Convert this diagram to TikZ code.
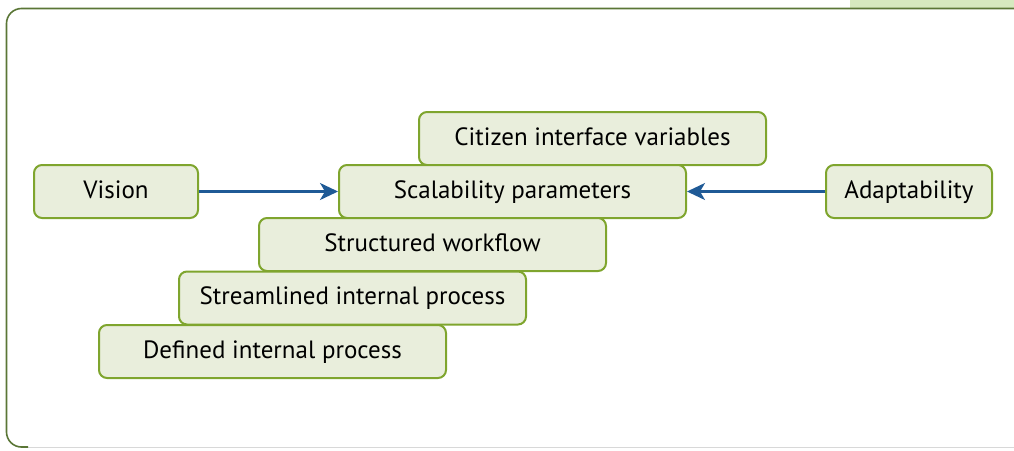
\documentclass[tikz,border=0pt]{standalone}
\usepackage{fontspec}
\setmainfont{PT Sans}
\usetikzlibrary{arrows.meta}
\definecolor{nodefill}{HTML}{E9EEDC}
\definecolor{nodeline}{HTML}{7FA52E}
\definecolor{arrowblue}{HTML}{1F5A96}
\definecolor{frameline}{HTML}{5A7636}
\definecolor{tabfill}{HTML}{D6E9BF}
\definecolor{bottomline}{HTML}{D8D8D8}
\tikzset{
  box/.style={draw=nodeline, fill=nodefill, line width=2pt, rounded corners=8pt,
    minimum height=53pt, inner sep=0pt, text height=18pt, text depth=5pt,
    font=\fontsize{25}{28}\selectfont, text=black},
  wide/.style={box, minimum width=347pt},
  narrow/.style={box, minimum width=164pt},
  link/.style={draw=arrowblue, line width=2.2pt, -{Stealth[length=18pt,width=17pt,inset=5pt]}}
}
\begin{document}
\begin{tikzpicture}[x=1pt,y=-1pt]
\useasboundingbox (0,0) rectangle (1014,450);
\fill[tabfill] (850,0) rectangle (1014,8);
\draw[bottomline, line width=1pt] (20,447) -- (1014,447);
\draw[frameline, line width=1.6pt, rounded corners=15pt] (1014,8.5) -- (6.5,8.5) -- (6.5,447) -- (28,447);
\node[wide] (cit) at (592.5,138.5) {Citizen interface variables};
\node[narrow] (vis) at (116,191.5) {Vision};
\node[wide] (sca) at (512.5,191.5) {Scalability parameters};
\node[box, minimum width=166pt] (ada) at (909,191.5) {Adaptability};
\node[wide] (str) at (432.5,244.5) {Structured workflow};
\node[wide] (stl) at (352.5,298) {Streamlined internal process};
\node[wide] (def) at (272.5,351.5) {Defined internal process};
\draw[link] (vis) -- (sca);
\draw[link] (ada) -- (sca);
\end{tikzpicture}
\end{document}
